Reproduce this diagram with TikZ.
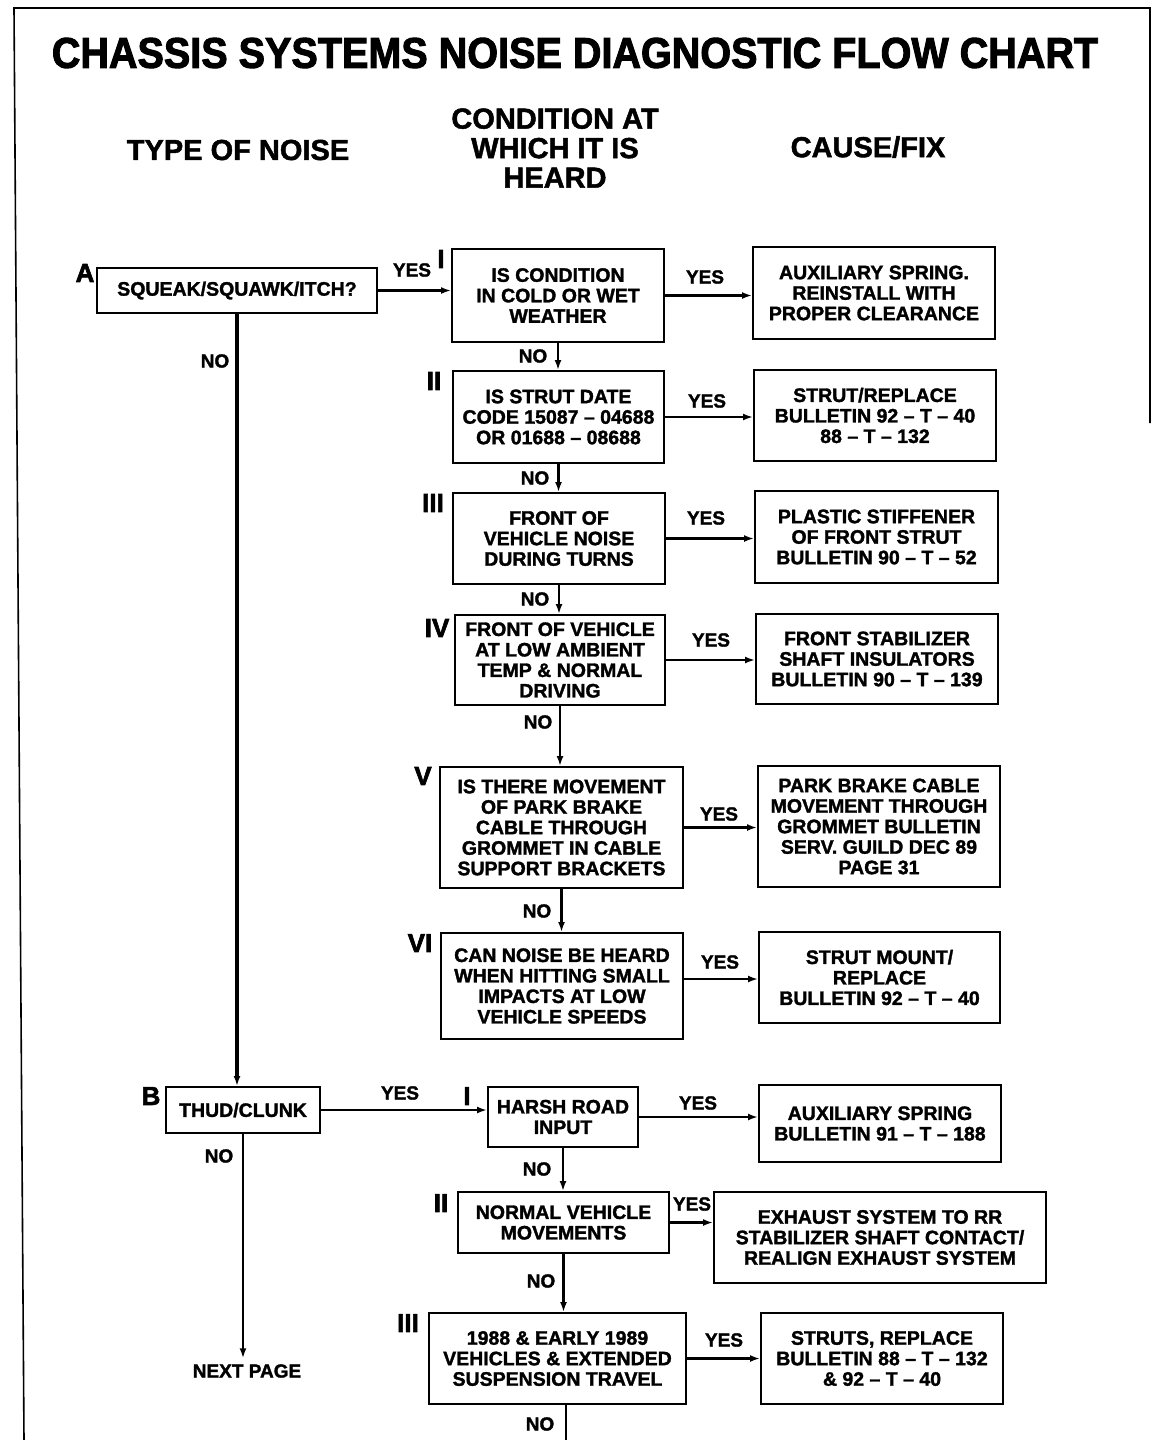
\documentclass[tikz,border=0pt]{standalone}
\usepackage{fontspec}
\setmainfont{Liberation Sans}
\newfontfamily\hv{Liberation Sans Bold}[FakeBold=1.6]
\newfontfamily\hvx{Liberation Sans Bold}[FakeBold=2.4]
\usetikzlibrary{arrows.meta}
\begin{document}
\begin{tikzpicture}[x=1pt,y=-1pt,
  box/.style={draw, line width=2pt, inner sep=0pt, align=center,
    font=\hv\fontsize{19.5}{20.5}\selectfont},
  lbl/.style={font=\hv\fontsize{19}{20}\selectfont, inner sep=0pt},
  num/.style={font=\hvx\fontsize{26}{26}\selectfont, inner sep=0pt},
  hd/.style={font=\hv\fontsize{29}{29.5}\selectfont, align=center, inner sep=0pt},
  arr/.style={line width=2.6pt, -{Latex[length=10pt,width=7pt]}},
  plain/.style={line width=2.6pt}]
\useasboundingbox (0,0) rectangle (1152,1440);
% frame
\draw[line width=1.6pt] (24,1440) -- (14,8) -- (1150,8) -- (1150,423);
% title and headers
\node[inner sep=0pt] (title) at (575,53) {\resizebox{1046pt}{30pt}{\hvx CHASSIS SYSTEMS NOISE DIAGNOSTIC FLOW CHART}};
\node[hd] (h1) at (238,150) {TYPE OF NOISE};
\node[hd] (h2) at (555,148) {CONDITION AT\\WHICH IT IS\\HEARD};
\node[hd] (h3) at (868,147) {CAUSE/FIX};
% A column boxes
\node[box, minimum width=280pt, minimum height=45pt] (A) at (237,290.5) {SQUEAK/SQUAWK/ITCH?};
\node[box, minimum width=212pt, minimum height=93pt] (AI) at (558,295.5) {IS CONDITION\\IN COLD OR WET\\WEATHER};
\node[box, minimum width=242pt, minimum height=92pt] (R1) at (874,293) {AUXILIARY SPRING.\\REINSTALL WITH\\PROPER CLEARANCE};
\node[box, minimum width=211pt, minimum height=92pt] (AII) at (558.5,417) {IS STRUT DATE\\CODE 15087 – 04688\\OR 01688 – 08688};
\node[box, minimum width=242pt, minimum height=91pt] (R2) at (875,415.5) {STRUT/REPLACE\\BULLETIN 92 – T – 40\\88 – T – 132};
\node[box, minimum width=212pt, minimum height=91pt] (AIII) at (559,538.5) {FRONT OF\\VEHICLE NOISE\\DURING TURNS};
\node[box, minimum width=243pt, minimum height=92pt] (R3) at (876.5,537) {PLASTIC STIFFENER\\OF FRONT STRUT\\BULLETIN 90 – T – 52};
\node[box, minimum width=210pt, minimum height=90pt] (AIV) at (560,660) {FRONT OF VEHICLE\\AT LOW AMBIENT\\TEMP \& NORMAL\\DRIVING};
\node[box, minimum width=242pt, minimum height=90pt] (R4) at (877,659) {FRONT STABILIZER\\SHAFT INSULATORS\\BULLETIN 90 – T – 139};
\node[box, minimum width=243pt, minimum height=121pt] (AV) at (561.5,827.5) {IS THERE MOVEMENT\\OF PARK BRAKE\\CABLE THROUGH\\GROMMET IN CABLE\\SUPPORT BRACKETS};
\node[box, minimum width=242pt, minimum height=121pt] (R5) at (879,826.5) {PARK BRAKE CABLE\\MOVEMENT THROUGH\\GROMMET BULLETIN\\SERV. GUILD DEC 89\\PAGE 31};
\node[box, minimum width=242pt, minimum height=106pt] (AVI) at (562,986) {CAN NOISE BE HEARD\\WHEN HITTING SMALL\\IMPACTS AT LOW\\VEHICLE SPEEDS};
\node[box, minimum width=241pt, minimum height=91pt] (R6) at (879.5,977.5) {STRUT MOUNT/\\REPLACE\\BULLETIN 92 – T – 40};
% B column boxes
\node[box, minimum width=154pt, minimum height=46pt] (B) at (243,1110) {THUD/CLUNK};
\node[box, minimum width=150pt, minimum height=60pt] (BI) at (563,1117) {HARSH ROAD\\INPUT};
\node[box, minimum width=242pt, minimum height=77pt] (BR1) at (880,1123.5) {AUXILIARY SPRING\\BULLETIN 91 – T – 188};
\node[box, minimum width=211pt, minimum height=61pt] (BII) at (563.5,1222.5) {NORMAL VEHICLE\\MOVEMENTS};
\node[box, minimum width=332pt, minimum height=91pt] (BR2) at (880,1237.5) {EXHAUST SYSTEM TO RR\\STABILIZER SHAFT CONTACT/\\REALIGN EXHAUST SYSTEM};
\node[box, minimum width=257pt, minimum height=91pt] (BIII) at (557.5,1358.5) {1988 \& EARLY 1989\\VEHICLES \& EXTENDED\\SUSPENSION TRAVEL};
\node[box, minimum width=242pt, minimum height=91pt] (BR3) at (882,1358.5) {STRUTS, REPLACE\\BULLETIN 88 – T – 132\\\& 92 – T – 40};
\node[lbl, outer sep=6pt] (next) at (247,1371) {NEXT PAGE};
\coordinate (offB) at (566,1442);
% letters and numerals
\node[num] (nA) at (85,273) {A};
\node[num] (nB) at (151,1096) {B};
\node[num] (n1) at (441,259) {I};
\node[num] (n2) at (434,381) {II};
\node[num] (n3) at (433,503) {III};
\node[num] (n4) at (437,628) {IV};
\node[num] (n5) at (423,776) {V};
\node[num] (n6) at (420,943) {VI};
\node[num] (m1) at (467,1096) {I};
\node[num] (m2) at (441,1203) {II};
\node[num] (m3) at (408,1323) {III};
% connectors
\draw[arr] (A.east) -- (A.east -| AI.west);
\draw[arr] (AI.east) -- (AI.east -| R1.west);
\draw[arr] (AII.east) -- (AII.east -| R2.west);
\draw[arr] (AIII.east) -- (AIII.east -| R3.west);
\draw[arr] (AIV.east) -- (AIV.east -| R4.west);
\draw[arr] (AV.east) -- (AV.east -| R5.west);
\draw[arr] ([yshift=7pt]AVI.east) -- ([yshift=7pt]AVI.east -| R6.west);
\draw[arr] (AI.south) -- (AI.south |- AII.north);
\draw[arr] (AII.south) -- (AII.south |- AIII.north);
\draw[arr] (AIII.south) -- (AIII.south |- AIV.north);
\draw[arr] (AIV.south) -- (AIV.south |- AV.north);
\draw[arr] (AV.south) -- (AV.south |- AVI.north);
\draw[arr, line width=3.2pt] (A.south) -- (A.south |- B.north);
\draw[arr] (B.east) -- (B.east -| BI.west);
\draw[arr] (BI.east) -- (BI.east -| BR1.west);
\draw[arr] (BII.east) -- (BII.east -| BR2.west);
\draw[arr] (BIII.east) -- (BIII.east -| BR3.west);
\draw[arr] (BI.south) -- (BI.south |- BII.north);
\draw[arr] (BII.south) -- (BII.south |- BIII.north);
\draw[plain] (BIII.south -| offB) -- (offB);
\draw[arr] (B.south) -- (B.south |- next.north);
% YES / NO labels
\node[lbl] (y0) at (412,270) {YES};
\node[lbl] (y1) at (705,277) {YES};
\node[lbl] (y2) at (707,401) {YES};
\node[lbl] (y3) at (706,518) {YES};
\node[lbl] (y4) at (711,640) {YES};
\node[lbl] (y5) at (719,814) {YES};
\node[lbl] (y6) at (720,962) {YES};
\node[lbl] (y7) at (400,1093) {YES};
\node[lbl] (y8) at (698,1103) {YES};
\node[lbl] (y9) at (692,1204) {YES};
\node[lbl] (y10) at (724,1340) {YES};
\node[lbl] (no0) at (215,361) {NO};
\node[lbl] (no1) at (533,356) {NO};
\node[lbl] (no2) at (535,478) {NO};
\node[lbl] (no3) at (535,599) {NO};
\node[lbl] (no4) at (538,722) {NO};
\node[lbl] (no5) at (537,911) {NO};
\node[lbl] (no6) at (219,1156) {NO};
\node[lbl] (no7) at (537,1169) {NO};
\node[lbl] (no8) at (541,1281) {NO};
\node[lbl] (no9) at (540,1424) {NO};
\end{tikzpicture}
\end{document}
